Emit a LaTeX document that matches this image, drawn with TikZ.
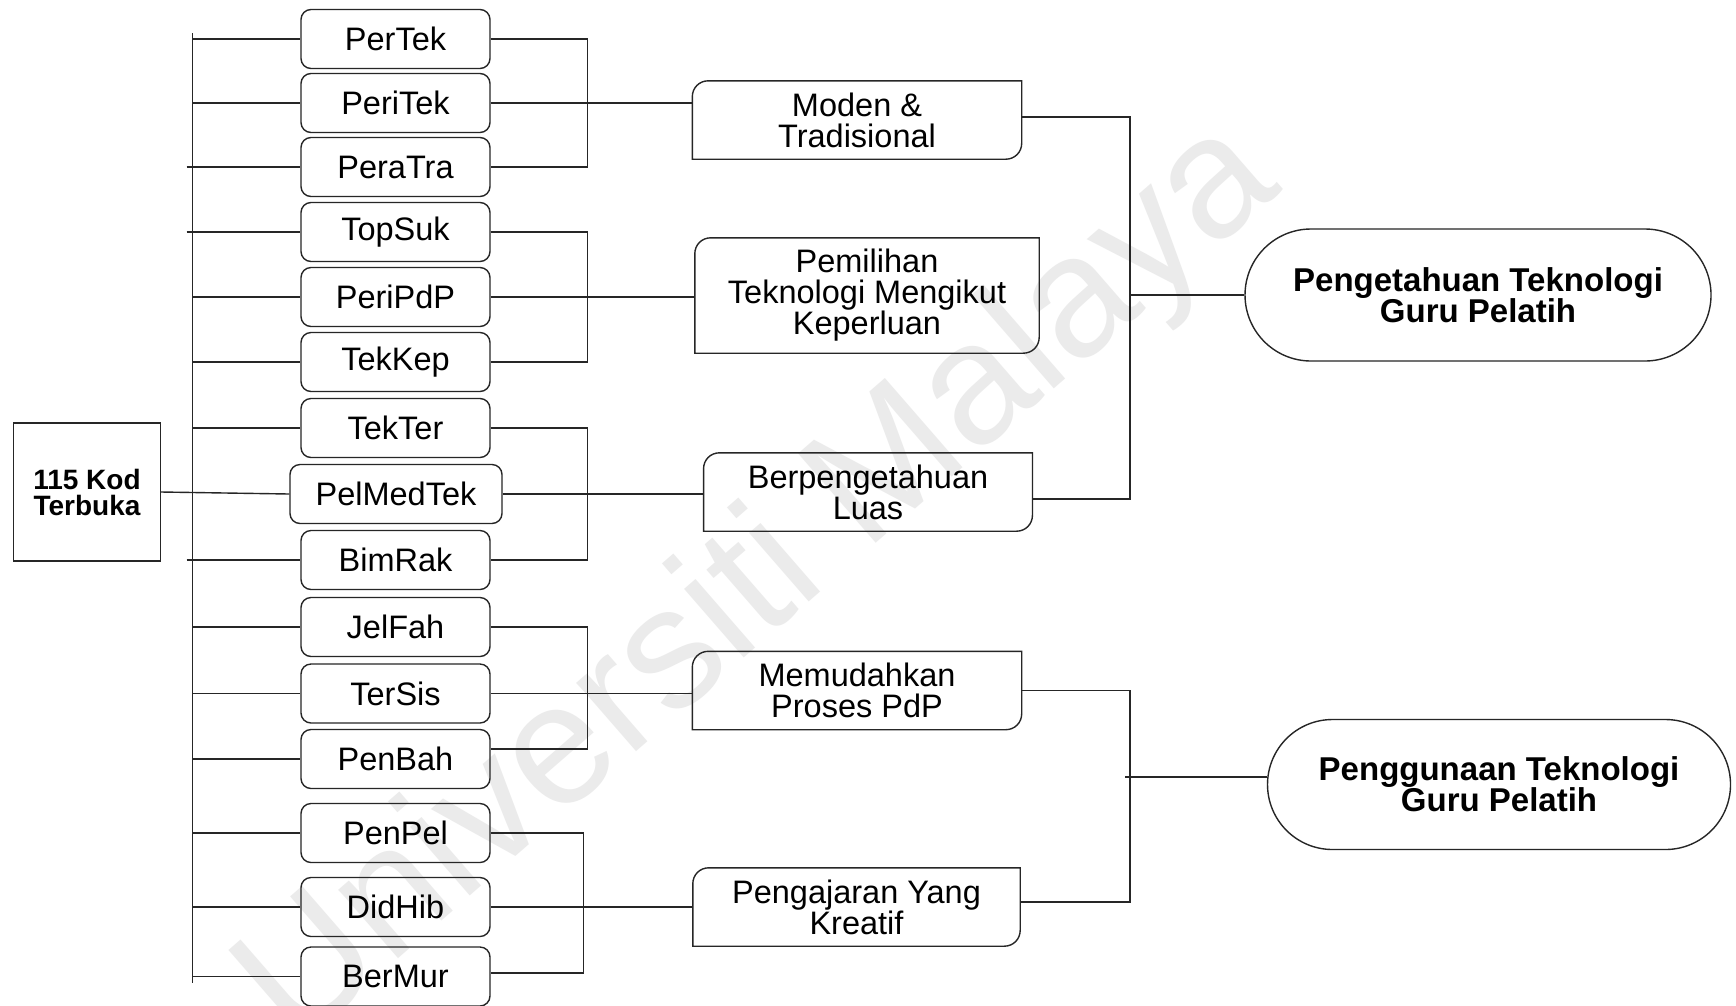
\documentclass[tikz,border=0pt]{standalone}
\usepackage{fontspec}
\setmainfont{Liberation Sans}
\usetikzlibrary{shapes.misc,calc}
\newcommand\catoutline[1]{\draw[ln] ([yshift=-16pt]#1.north west) .. controls ([yshift=-7pt]#1.north west) and ([xshift=7pt]#1.north west) .. ([xshift=16pt]#1.north west) -- (#1.north east) -- ([yshift=16pt]#1.south east) .. controls ([yshift=7pt]#1.south east) and ([xshift=-7pt]#1.south east) .. ([xshift=-16pt]#1.south east) -- (#1.south west) -- cycle;}
\begin{document}
\begin{tikzpicture}[x=1pt,y=-1pt,
  ln/.style={draw=black!85, line width=1.4pt},
  code/.style={ln, rounded corners=10pt, minimum width=189pt, minimum height=59pt, inner sep=0pt, font=\fontsize{32.5pt}{31pt}\selectfont},
  cat/.style={inner sep=0pt, align=center, font=\fontsize{32.5pt}{31pt}\selectfont},
  theme/.style={ln, rounded rectangle, inner sep=0pt, align=center, font=\fontsize{33pt}{31pt}\selectfont\bfseries},
]
\fill[white] (0,0) rectangle (1736,1005);
\useasboundingbox (0,0) rectangle (1736,1005);

% watermark
\node[rotate=41, text=black!8, font=\fontsize{172pt}{172pt}\selectfont] (wm) at (761,585) {Universiti Malaya};

% root
\node[ln, minimum width=147pt, minimum height=138pt, inner sep=0pt, align=center, font=\fontsize{28pt}{26pt}\selectfont\bfseries] (root) at (87,492) {115 Kod\\Terbuka};

% codes
\node[code] (c1) at (395.5,39) {PerTek};
\node[code] (c2) at (395.5,103) {PeriTek};
\node[code] (c3) at (395.5,167) {PeraTra};
\node[code] (c4) at (395.5,232) {TopSuk};
\node[code] (c5) at (395.5,297) {PeriPdP};
\node[code] (c6) at (395.5,362) {TekKep};
\node[code] (c7) at (395.5,428) {TekTer};
\node[code, minimum width=212pt] (c8) at (396,494) {PelMedTek};
\node[code] (c9) at (395.5,560) {BimRak};
\node[code] (c10) at (395.5,627) {JelFah};
\node[code] (c11) at (395.5,693.5) {TerSis};
\node[code] (c12) at (395.5,759) {PenBah};
\node[code] (c13) at (395.5,833) {PenPel};
\node[code] (c14) at (395.5,907) {DidHib};
\node[code] (c15) at (395.5,976.5) {BerMur};

% categories
\node[cat, minimum width=329pt, minimum height=78pt] (m1) at (857,120) {Moden \&\\Tradisional};
\node[cat, minimum width=344pt, minimum height=115pt] (m2) at (867,295.5) {Pemilihan\\Teknologi Mengikut\\Keperluan};
\node[cat, minimum width=328.5pt, minimum height=78pt] (m3) at (868,492) {Berpengetahuan\\Luas};
\node[cat, minimum width=329pt, minimum height=78pt] (m4) at (857,690.5) {Memudahkan\\Proses PdP};
\node[cat, minimum width=327pt, minimum height=78pt] (m5) at (856.5,907) {Pengajaran Yang\\Kreatif};
\catoutline{m1}
\catoutline{m2}
\catoutline{m3}
\catoutline{m4}
\catoutline{m5}

% themes
\node[theme, minimum width=466pt, minimum height=132pt] (t1) at (1478,295) {Pengetahuan Teknologi\\Guru Pelatih};
\node[theme, minimum width=463pt, minimum height=130pt] (t2) at (1499,784.5) {Penggunaan Teknologi\\Guru Pelatih};

% bus
\coordinate (bt) at (192.5,33);
\coordinate (bb) at (192.5,983);
\draw[ln] (bt) -- (bb);
\foreach \n in {c1,c2,c5,c6,c7,c10,c11,c12,c13,c14,c15}
  \draw[ln] (\n.west -| bt) -- (\n.west);
\foreach \n in {c3,c4,c9}
  \draw[ln] ([xshift=-6pt]\n.west -| bt) -- (\n.west);
\draw[ln] (root.east) -- (c8.west);

% group brackets
\coordinate (gx) at (587.5,0);
\coordinate (gy) at (583.5,0);
\draw[ln] (c1.east) -- (c1.east -| gx) -- (c3.east -| gx) -- (c3.east);
\draw[ln] (c2.east) -- (c2.east -| m1.west);
\draw[ln] (c4.east) -- (c4.east -| gx) -- (c6.east -| gx) -- (c6.east);
\draw[ln] (c5.east) -- (c5.east -| m2.west);
\draw[ln] (c7.east) -- (c7.east -| gx) -- (c9.east -| gx) -- (c9.east);
\draw[ln] (c8.east) -- (c8.east -| m3.west);
\draw[ln] (c10.east) -- (c10.east -| gx) -- ([yshift=10pt]c12.east -| gx) -- ([yshift=10pt]c12.east);
\draw[ln] (c11.east) -- (c11.east -| m4.west);
\draw[ln] (c13.east) -- (c13.east -| gy) -- ([yshift=3.5pt]c15.east -| gy) -- ([yshift=3.5pt]c15.east);
\draw[ln] (c14.east) -- (c14.east -| m5.west);

% right brackets
\coordinate (rx) at (1130,0);
\draw[ln] ([yshift=3pt]m1.east) -- ([yshift=3pt]m1.east -| rx) -- ([yshift=-7pt]m3.east -| rx) -- ([yshift=-7pt]m3.east);
\draw[ln] (t1.west -| rx) -- (t1.west);
\draw[ln] (m4.east) -- (m4.east -| rx) -- ([yshift=5pt]m5.east -| rx) -- ([yshift=5pt]m5.east);
\coordinate (tj) at (1125,777);
\draw[ln] (tj) -- (tj -| t2.west);
\end{tikzpicture}
\end{document}
